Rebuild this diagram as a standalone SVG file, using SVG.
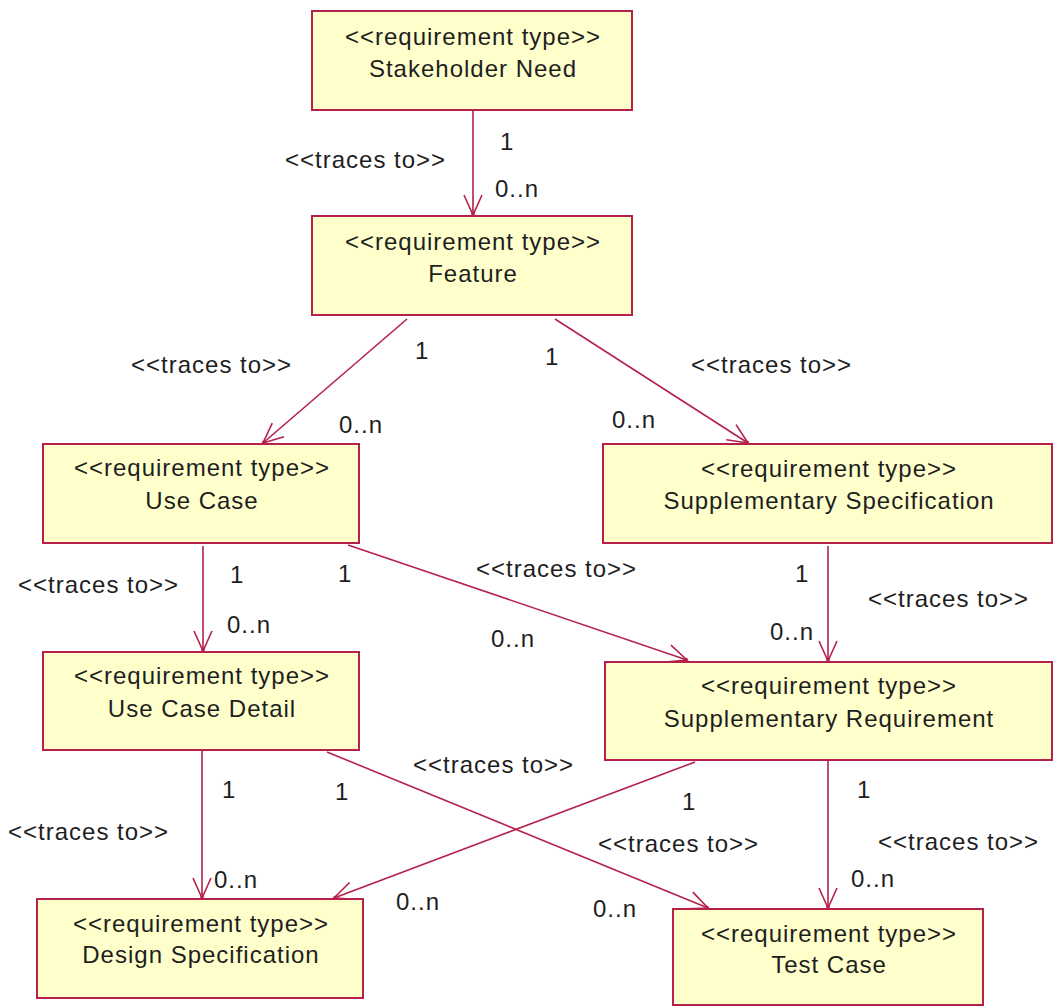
<svg xmlns="http://www.w3.org/2000/svg" width="1053" height="1006" viewBox="0 0 1053 1006">
<style>
.box{fill:#ffffcc;stroke:#b5214a;stroke-width:2}
.t{font-family:"Liberation Sans",Arial,sans-serif;font-size:24px;fill:#1e1e1e;letter-spacing:1px}
.c{text-anchor:middle}
.ln{stroke:#b5214a;stroke-width:1.6;fill:none;marker-end:url(#arr)}
</style>
<defs>
<marker id="arr" markerUnits="userSpaceOnUse" markerWidth="24" markerHeight="24" viewBox="-22 -12 24 24" refX="0" refY="0" orient="auto">
<path d="M-20,-9 L0,0 L-20,9" fill="none" stroke="#b5214a" stroke-width="1.6"/>
<circle cx="-1" cy="0" r="1.8" fill="#b5214a"/>
</marker>
</defs>
<rect width="1053" height="1006" fill="#ffffff"/>
<g id="connectors">
<g id="c1"><path class="ln" d="M473,111 L473,215"/>
<text class="t" x="285" y="168">&lt;&lt;traces to&gt;&gt;</text><text class="t" x="500" y="150">1</text><text class="t" x="495" y="197">0..n</text></g>
<g id="c2"><path class="ln" d="M407,319 L263,443"/>
<text class="t" x="131" y="373">&lt;&lt;traces to&gt;&gt;</text><text class="t" x="415" y="359">1</text><text class="t" x="339" y="433">0..n</text></g>
<g id="c3"><path class="ln" d="M555,319 L748,443"/>
<text class="t" x="691" y="373">&lt;&lt;traces to&gt;&gt;</text><text class="t" x="545" y="365">1</text><text class="t" x="612" y="428">0..n</text></g>
<g id="c4"><path class="ln" d="M203,546 L203,651"/>
<text class="t" x="18" y="593">&lt;&lt;traces to&gt;&gt;</text><text class="t" x="230" y="583">1</text><text class="t" x="227" y="633">0..n</text></g>
<g id="c5"><path class="ln" d="M348,545 L687,660"/>
<text class="t" x="476" y="577">&lt;&lt;traces to&gt;&gt;</text><text class="t" x="338" y="582">1</text><text class="t" x="491" y="647">0..n</text></g>
<g id="c6"><path class="ln" d="M828,546 L828,661"/>
<text class="t" x="868" y="607">&lt;&lt;traces to&gt;&gt;</text><text class="t" x="795" y="582">1</text><text class="t" x="770" y="640">0..n</text></g>
<g id="c7"><path class="ln" d="M202,751 L202,898"/>
<text class="t" x="8" y="840">&lt;&lt;traces to&gt;&gt;</text><text class="t" x="222" y="798">1</text><text class="t" x="214" y="888">0..n</text></g>
<g id="c8"><path class="ln" d="M327,752 L708,908"/>
<text class="t" x="598" y="852">&lt;&lt;traces to&gt;&gt;</text><text class="t" x="335" y="800">1</text><text class="t" x="593" y="917">0..n</text></g>
<g id="c9"><path class="ln" d="M695,762 L334,898"/>
<text class="t" x="413" y="773">&lt;&lt;traces to&gt;&gt;</text><text class="t" x="682" y="810">1</text><text class="t" x="396" y="910">0..n</text></g>
<g id="c10"><path class="ln" d="M828,761 L828,908"/>
<text class="t" x="878" y="850">&lt;&lt;traces to&gt;&gt;</text><text class="t" x="857" y="798">1</text><text class="t" x="851" y="887">0..n</text></g>
</g>
<g id="stakeholder-need"><rect class="box" x="312" y="11" width="320" height="99"/>
<text class="t c" x="473" y="45">&lt;&lt;requirement type&gt;&gt;</text><text class="t c" x="473" y="77">Stakeholder Need</text></g>
<g id="feature"><rect class="box" x="312" y="216" width="320" height="99"/>
<text class="t c" x="473" y="250">&lt;&lt;requirement type&gt;&gt;</text><text class="t c" x="473" y="282">Feature</text></g>
<g id="use-case"><rect class="box" x="43" y="444" width="316" height="99"/>
<text class="t c" x="202" y="476">&lt;&lt;requirement type&gt;&gt;</text><text class="t c" x="202" y="509">Use Case</text></g>
<g id="supplementary-specification"><rect class="box" x="603" y="444" width="449" height="99"/>
<text class="t c" x="829" y="477">&lt;&lt;requirement type&gt;&gt;</text><text class="t c" x="829" y="509">Supplementary Specification</text></g>
<g id="use-case-detail"><rect class="box" x="43" y="652" width="316" height="98"/>
<text class="t c" x="202" y="684">&lt;&lt;requirement type&gt;&gt;</text><text class="t c" x="202" y="717">Use Case Detail</text></g>
<g id="supplementary-requirement"><rect class="box" x="605" y="662" width="447" height="98"/>
<text class="t c" x="829" y="694">&lt;&lt;requirement type&gt;&gt;</text><text class="t c" x="829" y="727">Supplementary Requirement</text></g>
<g id="design-specification"><rect class="box" x="37" y="899" width="326" height="99"/>
<text class="t c" x="201" y="932">&lt;&lt;requirement type&gt;&gt;</text><text class="t c" x="201" y="963">Design Specification</text></g>
<g id="test-case"><rect class="box" x="673" y="909" width="310" height="96"/>
<text class="t c" x="829" y="942">&lt;&lt;requirement type&gt;&gt;</text><text class="t c" x="829" y="973">Test Case</text></g>
</svg>
